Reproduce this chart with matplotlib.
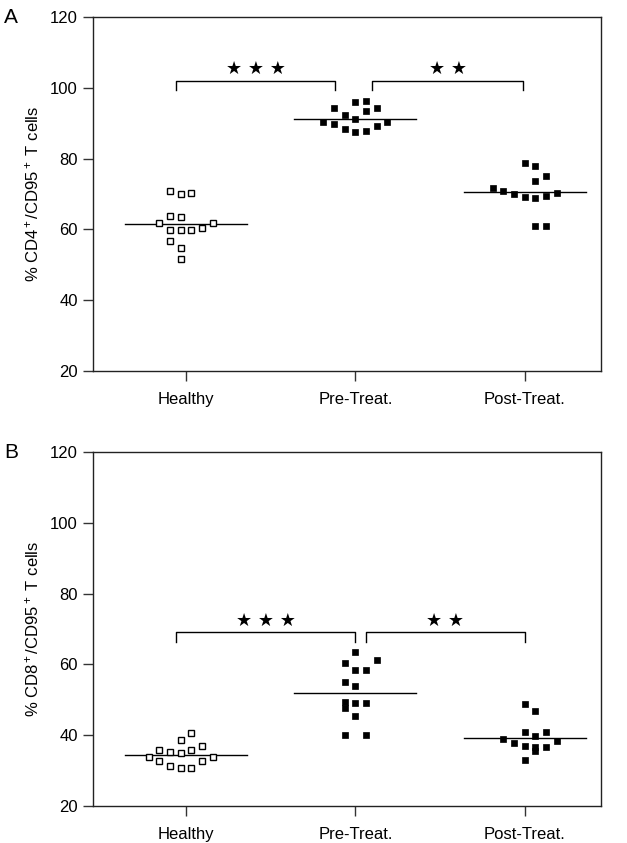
import matplotlib
matplotlib.use("Agg")
import matplotlib.pyplot as plt

plt.rcParams['font.family'] = ['Liberation Sans', 'DejaVu Sans']
plt.rcParams['mathtext.fontset'] = 'custom'
plt.rcParams['mathtext.rm'] = 'Liberation Sans'
plt.rcParams['mathtext.it'] = 'Liberation Sans'

groups = ['Healthy', 'Pre-Treat.', 'Post-Treat.']

# panel A: CD4+/CD95+ (values and swarm slots)
healthy_a = [70.9, 69.9, 70.2, 63.8, 63.6, 61.7, 61.9, 59.8, 59.7, 59.8, 60.5, 56.8, 54.7, 51.6]
healthy_a_slot = [-1.5, -0.5, 0.5, -1.5, -0.5, -2.5, 2.5, -1.5, -0.5, 0.5, 1.5, -1.5, -0.5, -0.5]
pre_a = [94.4, 95.9, 96.4, 94.4, 93.4, 92.4, 91.2, 90.4, 90.4, 89.9, 88.4, 87.4, 87.9, 89.3]
pre_a_slot = [-2, 0, 1, 2, 1, -1, 0, -3, 3, -2, -1, 0, 1, 2]
post_a = [78.8, 78.0, 73.8, 75.0, 71.6, 70.9, 69.9, 69.1, 68.9, 69.4, 70.4, 60.9, 60.9]
post_a_slot = [0, 1, 1, 2, -3, -2, -1, 0, 1, 2, 3, 1, 2]
means_a = [61.4, 91.2, 70.5]

# panel B: CD8+/CD95+
healthy_b = [40.5, 38.7, 36.9, 35.9, 35.2, 34.9, 35.9, 33.9, 33.8, 32.8, 32.8, 31.4, 30.8, 30.8]
healthy_b_slot = [0.5, -0.5, 1.5, -2.5, -1.5, -0.5, 0.5, -3.5, 2.5, -2.5, 1.5, -1.5, -0.5, 0.5]
pre_b = [63.4, 60.4, 61.3, 58.3, 58.3, 55.0, 53.9, 49.4, 47.8, 49.0, 49.2, 45.3, 40.0, 40.0]
pre_b_slot = [0, -1, 2, 0, 1, -1, 0, -1, -1, 0, 1, 0, -1, 1]
post_b = [48.9, 46.8, 40.8, 39.8, 40.8, 38.8, 37.7, 37.0, 36.6, 36.7, 38.4, 35.5, 33.0]
post_b_slot = [0, 1, 0, 1, 2, -2, -1, 0, 1, 2, 3, 1, 0]
means_b = [34.3, 51.8, 39.1]

SLOT = 0.063   # width of one swarm column in x units


def draw_panel(ax, data, slots, means, ylabel, letter, brackets):
    for i, (vals, sl) in enumerate(zip(data, slots)):
        xs = [i + 1 + s * SLOT for s in sl]
        if i == 0:
            ax.plot(xs, vals, ls='none', marker='s', ms=4.2, mfc='white',
                    mec='black', mew=1.0, zorder=3)
        else:
            ax.plot(xs, vals, ls='none', marker='s', ms=4.2, mfc='black',
                    mec='black', mew=0.5, zorder=3)
        ax.plot([i + 1 - 0.36, i + 1 + 0.36], [means[i], means[i]],
                color='black', lw=1.0, zorder=2)

    for (x0, x1, ytop, ydrop, stars) in brackets:
        ax.plot([x0, x0, x1, x1], [ydrop, ytop, ytop, ydrop],
                color='black', lw=1.0, clip_on=False)
        ax.text((x0 + x1) / 2, ytop + 3.2, stars, ha='center', va='center',
                fontsize=13, family='DejaVu Sans')

    ax.set_xlim(0.45, 3.45)
    ax.set_ylim(20, 120)
    ax.set_xticks([1, 2, 3])
    ax.set_xticklabels(groups, fontsize=12)
    ax.set_yticks([20, 40, 60, 80, 100, 120])
    ax.tick_params(axis='both', direction='out', length=7, width=1.0,
                   labelsize=12, color='#333333')
    ax.tick_params(axis='x', pad=8)
    ax.tick_params(axis='y', pad=4)
    for sp in ax.spines.values():
        sp.set_linewidth(1.0)
        sp.set_color('#222222')
    ax.set_ylabel(ylabel, fontsize=12, labelpad=6)
    ax.text(-0.175, 1.0, letter, transform=ax.transAxes, fontsize=15,
            ha='left', va='center')


fig = plt.figure(figsize=(6.27, 8.43), dpi=100)
ax_a = fig.add_axes([0.1483, 0.5599, 0.8102, 0.4199])
ax_b = fig.add_axes([0.1483, 0.0439, 0.8102, 0.4199])

draw_panel(ax_a, [healthy_a, pre_a, post_a],
           [healthy_a_slot, pre_a_slot, post_a_slot], means_a,
           '% CD4$^+$/CD95$^+$ T cells', 'A',
           [(0.94, 1.88, 102.0, 99.4, '\u2605 \u2605 \u2605'),
            (2.10, 2.99, 102.0, 99.4, '\u2605 \u2605')])
draw_panel(ax_b, [healthy_b, pre_b, post_b],
           [healthy_b_slot, pre_b_slot, post_b_slot], means_b,
           '% CD8$^+$/CD95$^+$ T cells', 'B',
           [(0.94, 2.00, 69.1, 66.3, '\u2605 \u2605 \u2605'),
            (2.06, 3.00, 69.1, 66.3, '\u2605 \u2605')])

fig.savefig('out.png', dpi=100)
